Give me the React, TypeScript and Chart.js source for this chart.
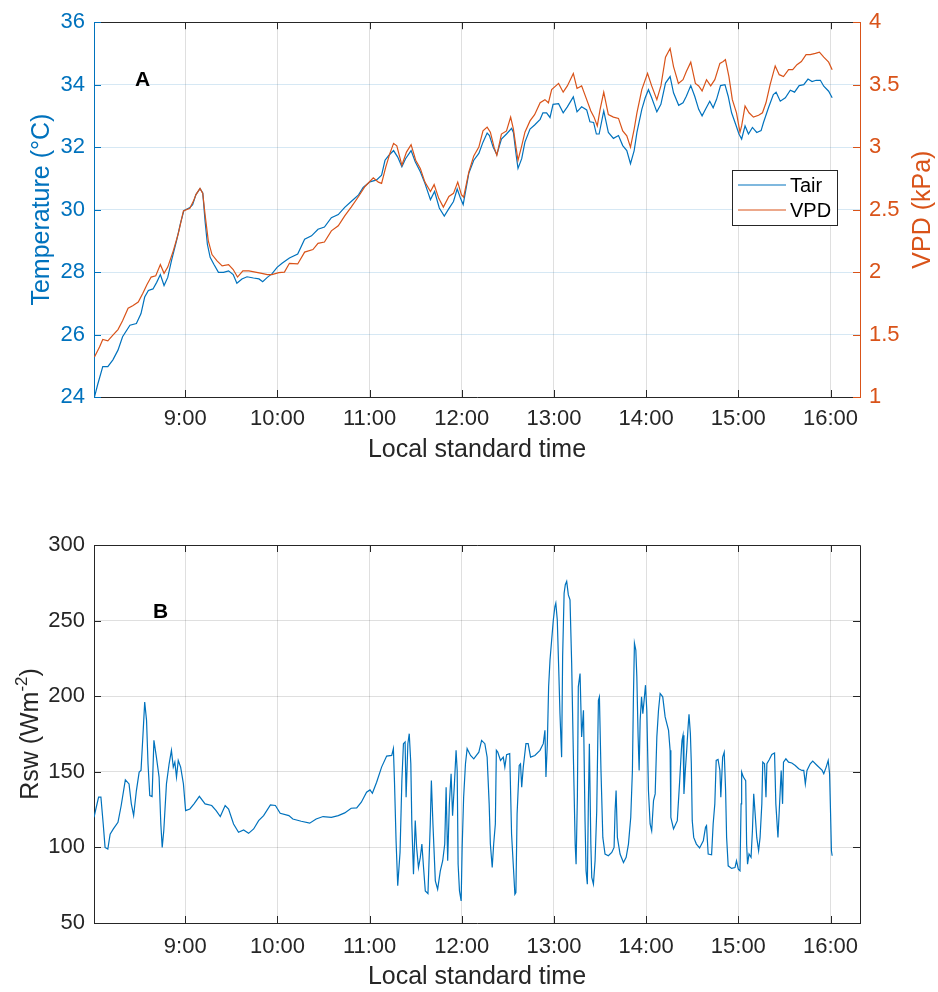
import React, { useEffect, useRef } from "react";
import { Chart, registerables } from "chart.js";

Chart.register(...registerables);

const FONT = "'Liberation Sans', Arial, Helvetica, sans-serif";
const BLUE = "#0072BD";
const ORANGE = "#D95319";
const AXIS = "#262626";
const GRID_GRAY = "rgba(38,38,38,0.15)";
const GRID_BLUE = "rgba(0,114,189,0.16)";

// x axis: local standard time in decimal hours
const hourTicks = [9, 10, 11, 12, 13, 14, 15, 16];
const hourLabels = ["9:00", "10:00", "11:00", "12:00", "13:00", "14:00", "15:00", "16:00"];

// Panel A: air temperature (°C)
const tairTime = [
  8.015, 8.05, 8.105, 8.16, 8.215, 8.27, 8.32, 8.4, 8.47, 8.52, 8.56, 8.6, 8.65, 8.69, 8.73, 8.77, 8.81, 8.85,
  8.905, 8.95, 8.985, 9.05, 9.08, 9.116, 9.16, 9.19, 9.215, 9.24, 9.27, 9.31, 9.36, 9.415, 9.47, 9.52, 9.56,
  9.615, 9.67, 9.74, 9.8, 9.84, 9.89, 9.94, 9.996, 10.05, 10.13, 10.22, 10.295, 10.37, 10.44, 10.51, 10.585,
  10.66, 10.73, 10.8, 10.88, 10.93, 11.004, 11.076, 11.13, 11.167, 11.21, 11.26, 11.305, 11.35, 11.39, 11.45,
  11.495, 11.55, 11.6, 11.66, 11.705, 11.756, 11.81, 11.86, 11.91, 11.95, 11.985, 12.015, 12.076, 12.13, 12.185,
  12.23, 12.275, 12.3, 12.34, 12.38, 12.43, 12.485, 12.54, 12.56, 12.59, 12.61, 12.65, 12.685, 12.74, 12.79,
  12.85, 12.88, 12.92, 12.957, 12.99, 13.05, 13.1, 13.145, 13.21, 13.25, 13.3, 13.355, 13.39, 13.43, 13.46,
  13.49, 13.54, 13.59, 13.645, 13.7, 13.746, 13.79, 13.83, 13.87, 13.9, 13.953, 13.99, 14.025, 14.06, 14.116,
  14.16, 14.21, 14.26, 14.297, 14.353, 14.4, 14.436, 14.484, 14.527, 14.57, 14.607, 14.644, 14.69, 14.727,
  14.764, 14.807, 14.855, 14.89, 14.927, 14.97, 15.007, 15.036, 15.073, 15.11, 15.153, 15.2, 15.247, 15.273,
  15.327, 15.38, 15.41, 15.455, 15.51, 15.564, 15.61, 15.66, 15.71, 15.756, 15.8, 15.844, 15.89, 15.927, 15.98,
  16.018,
];
const tairValues = [
  24.0, 24.4, 24.97, 24.97, 25.19, 25.5, 25.93, 26.3, 26.35, 26.67, 27.2, 27.41, 27.46, 27.67, 27.92, 27.57, 27.83,
  28.36, 29.0, 29.58, 29.97, 30.07, 30.16, 30.48, 30.67, 30.53, 29.63, 28.89, 28.47, 28.25, 27.99, 27.99, 28.04,
  27.92, 27.64, 27.78, 27.85, 27.81, 27.78, 27.69, 27.83, 27.94, 28.15, 28.28, 28.45, 28.58, 29.05, 29.16, 29.37,
  29.44, 29.74, 29.84, 30.07, 30.26, 30.47, 30.71, 30.89, 30.95, 31.1, 31.58, 31.74, 31.89, 31.68, 31.37, 31.63,
  31.89, 31.53, 31.21, 30.84, 30.32, 30.58, 30.05, 29.79, 30.03, 30.26, 30.66, 30.37, 30.16, 31.16, 31.58, 31.8,
  32.16, 32.45, 32.37, 32.0, 31.76, 32.26, 32.42, 32.6, 32.47, 31.74, 31.32, 31.63, 32.16, 32.58, 32.71, 32.89,
  33.1, 33.1, 32.95, 33.37, 33.39, 33.1, 33.29, 33.61, 33.13, 33.29, 33.19, 32.81, 32.79, 32.42, 32.42, 33.16,
  32.47, 32.28, 32.37, 32.05, 31.89, 31.47, 31.89, 32.47, 33.21, 33.58, 33.84, 33.58, 33.13, 33.37, 34.05, 34.26,
  33.74, 33.34, 33.42, 33.63, 33.97, 33.63, 33.21, 33.0, 33.21, 33.47, 33.26, 33.53, 33.97, 34.0, 33.63, 33.1,
  32.74, 32.42, 32.26, 32.68, 32.42, 32.63, 32.47, 32.53, 32.79, 33.26, 33.68, 33.76, 33.47, 33.58, 33.82, 33.76,
  33.97, 34.0, 34.18, 34.1, 34.14, 34.14, 33.95, 33.79, 33.58,
];

// Panel A: vapour pressure deficit (kPa)
const vpdTime = [
  8.015, 8.07, 8.105, 8.16, 8.215, 8.27, 8.32, 8.38, 8.43, 8.49, 8.54, 8.585, 8.63, 8.68, 8.73, 8.77, 8.81, 8.87,
  8.925, 8.98, 9.05, 9.09, 9.116, 9.16, 9.19, 9.215, 9.25, 9.29, 9.345, 9.4, 9.47, 9.52, 9.567, 9.625, 9.69, 9.76,
  9.83, 9.89, 9.94, 10.015, 10.076, 10.13, 10.22, 10.295, 10.385, 10.44, 10.51, 10.585, 10.66, 10.73, 10.8, 10.88,
  10.95, 11.04, 11.095, 11.13, 11.175, 11.22, 11.26, 11.295, 11.35, 11.4, 11.45, 11.5, 11.55, 11.6, 11.66, 11.7,
  11.75, 11.8, 11.86, 11.91, 11.956, 11.996, 12.02, 12.076, 12.13, 12.185, 12.23, 12.275, 12.31, 12.35, 12.38,
  12.43, 12.485, 12.53, 12.56, 12.59, 12.61, 12.65, 12.685, 12.74, 12.79, 12.85, 12.902, 12.94, 12.975, 13.05,
  13.1, 13.145, 13.21, 13.25, 13.3, 13.355, 13.4, 13.435, 13.47, 13.5, 13.54, 13.59, 13.645, 13.7, 13.746, 13.79,
  13.83, 13.87, 13.9, 13.953, 14.015, 14.06, 14.116, 14.16, 14.21, 14.26, 14.297, 14.35, 14.4, 14.436, 14.484,
  14.534, 14.57, 14.607, 14.655, 14.7, 14.745, 14.8, 14.836, 14.86, 14.898, 14.935, 14.98, 15.018, 15.036, 15.073,
  15.116, 15.164, 15.22, 15.262, 15.3, 15.345, 15.4, 15.444, 15.49, 15.545, 15.59, 15.636, 15.684, 15.735, 15.78,
  15.836, 15.88, 15.927, 15.98, 16.018,
];
const vpdValues = [
  1.32, 1.4, 1.46, 1.45, 1.495, 1.54, 1.61, 1.71, 1.73, 1.76, 1.83, 1.9, 1.96, 1.97, 2.06, 1.99, 2.04, 2.17, 2.31,
  2.49, 2.51, 2.57, 2.62, 2.67, 2.63, 2.46, 2.25, 2.14, 2.09, 2.05, 2.06, 2.02, 1.96, 2.01, 2.01, 2.0, 1.99, 1.98,
  1.98, 1.995, 2.0, 2.07, 2.065, 2.16, 2.18, 2.23, 2.24, 2.33, 2.37, 2.45, 2.52, 2.605, 2.685, 2.755, 2.72, 2.71,
  2.84, 2.95, 3.03, 3.01, 2.855, 2.96, 3.02, 2.895, 2.83, 2.72, 2.645, 2.7, 2.59, 2.52, 2.605, 2.63, 2.72, 2.62,
  2.6, 2.8, 2.93, 3.0, 3.13, 3.16, 3.12, 3.0, 2.935, 3.105, 3.13, 3.24, 3.145, 2.99, 2.895, 3.01, 3.12, 3.21, 3.26,
  3.355, 3.38, 3.355, 3.46, 3.51, 3.44, 3.49, 3.59, 3.47, 3.49, 3.38, 3.29, 3.24, 3.17, 3.3, 3.44, 3.26, 3.24,
  3.23, 3.13, 3.09, 3.0, 3.145, 3.275, 3.46, 3.59, 3.49, 3.38, 3.49, 3.72, 3.79, 3.645, 3.51, 3.54, 3.605, 3.68,
  3.51, 3.49, 3.45, 3.54, 3.49, 3.54, 3.67, 3.685, 3.7, 3.565, 3.38, 3.275, 3.12, 3.17, 3.33, 3.275, 3.24, 3.255,
  3.275, 3.355, 3.5, 3.65, 3.58, 3.565, 3.62, 3.62, 3.66, 3.685, 3.74, 3.74, 3.75, 3.76, 3.72, 3.68, 3.62,
];

// Panel B: shortwave radiation (W m-2)
const rswTime = [
  8.01, 8.03, 8.06, 8.085, 8.11, 8.13, 8.16, 8.185, 8.22, 8.27, 8.305, 8.35, 8.39, 8.415, 8.44, 8.47, 8.5, 8.52,
  8.54, 8.56, 8.58, 8.596, 8.615, 8.64, 8.66, 8.687, 8.716, 8.735, 8.75, 8.767, 8.796, 8.825, 8.85, 8.87, 8.887,
  8.905, 8.924, 8.95, 8.98, 9.004, 9.05, 9.095, 9.153, 9.215, 9.287, 9.335, 9.38, 9.433, 9.47, 9.524, 9.578,
  9.633, 9.687, 9.742, 9.796, 9.85, 9.924, 9.978, 10.03, 10.124, 10.167, 10.258, 10.35, 10.42, 10.495, 10.585,
  10.66, 10.73, 10.8, 10.86, 10.91, 10.967, 11.004, 11.03, 11.076, 11.13, 11.185, 11.24, 11.258, 11.27, 11.287,
  11.305, 11.33, 11.35, 11.367, 11.385, 11.396, 11.415, 11.43, 11.447, 11.458, 11.476, 11.495, 11.51, 11.53,
  11.55, 11.567, 11.585, 11.604, 11.633, 11.658, 11.67, 11.687, 11.713, 11.738, 11.767, 11.793, 11.815, 11.83,
  11.847, 11.865, 11.884, 11.9, 11.92, 11.938, 11.95, 11.96, 11.975, 11.993, 12.004, 12.02, 12.04, 12.058, 12.095,
  12.13, 12.185, 12.215, 12.25, 12.275, 12.297, 12.31, 12.33, 12.346, 12.364, 12.375, 12.39, 12.42, 12.45,
  12.467, 12.486, 12.52, 12.54, 12.558, 12.576, 12.587, 12.6, 12.623, 12.637, 12.65, 12.667, 12.696, 12.72,
  12.746, 12.793, 12.848, 12.884, 12.902, 12.913, 12.928, 12.942, 12.957, 12.975, 12.993, 13.01, 13.02, 13.036,
  13.054, 13.065, 13.083, 13.094, 13.11, 13.123, 13.138, 13.156, 13.174, 13.192, 13.21, 13.23, 13.24, 13.254,
  13.264, 13.283, 13.3, 13.32, 13.337, 13.348, 13.362, 13.373, 13.384, 13.4, 13.41, 13.428, 13.446, 13.464,
  13.482, 13.493, 13.51, 13.53, 13.554, 13.59, 13.627, 13.652, 13.663, 13.674, 13.688, 13.717, 13.754, 13.783,
  13.808, 13.833, 13.851, 13.862, 13.873, 13.888, 13.899, 13.913, 13.924, 13.935, 13.95, 13.964, 13.978, 13.993,
  14.007, 14.025, 14.043, 14.06, 14.08, 14.098, 14.116, 14.134, 14.152, 14.18, 14.206, 14.243, 14.26, 14.268,
  14.297, 14.338, 14.364, 14.382, 14.389, 14.4, 14.41, 14.425, 14.44, 14.455, 14.465, 14.48, 14.49, 14.5, 14.516,
  14.545, 14.58, 14.62, 14.644, 14.655, 14.673, 14.71, 14.727, 14.745, 14.76, 14.78, 14.8, 14.81, 14.83, 14.847,
  14.862, 14.873, 14.89, 14.927, 14.964, 14.98, 15.0, 15.018, 15.03, 15.036, 15.055, 15.08, 15.09, 15.1, 15.116,
  15.138, 15.153, 15.167, 15.18, 15.2, 15.22, 15.236, 15.255, 15.265, 15.284, 15.3, 15.31, 15.335, 15.364,
  15.393, 15.407, 15.43, 15.444, 15.465, 15.48, 15.49, 15.516, 15.545, 15.58, 15.618, 15.655, 15.69, 15.71,
  15.727, 15.745, 15.78, 15.807, 15.855, 15.91, 15.927, 15.953, 15.975, 15.99, 16.0, 16.01, 16.018,
];
const rswValues = [
  119.9, 125.4, 133.2, 133.2, 115.5, 100, 98.9, 108.8, 112.2, 116.6, 127.7, 144.7, 142, 128.8, 121, 137.6, 149.8,
  150.9, 173, 196.2, 184, 155.3, 134.3, 133.6, 170.8, 159.7, 146.5, 115.5, 100, 111, 142, 155.3, 164.2, 153.1,
  156.4, 146.5, 157.5, 153.1, 142, 124.3, 125.4, 128.8, 133.8, 128.8, 127.7, 124.3, 120.4, 127.7, 125.4, 115.5,
  110, 111.5, 109.3, 112.2, 117.7, 121, 128.1, 127.7, 122.6, 121, 118.8, 117.3, 116, 118.8, 120.4, 119.9, 121,
  122.8, 125.9, 126.1, 129.9, 136.5, 138, 135.8, 143.1, 153.1, 160.4, 160.8, 165.3, 143.1, 104.4, 74.6, 96.7,
  144.2, 168.6, 169.7, 133.2, 168.6, 175.2, 155.3, 115.5, 82.3, 117.7, 100, 86.7, 93.4, 102.2, 86.7, 71.2, 69.5,
  115.5, 144.2, 115.5, 77.9, 72.3, 84.5, 91.2, 102.2, 139.8, 91.2, 128.8, 148.7, 121, 142, 164.2, 150.9, 89, 71.2,
  64.6, 100, 133.2, 155.3, 165.3, 160.8, 158.6, 163, 170.8, 168.6, 159.7, 128.8, 102.2, 86.7, 102.2, 115.5, 164.2,
  163, 157.5, 159.7, 153.1, 161.3, 162, 108.8, 89, 69, 70.1, 122.1, 154.2, 155.3, 139.8, 153.1, 168.6, 168.6,
  159.7, 160.8, 164.2, 168.6, 177.4, 146.5, 168.6, 206.2, 223.9, 237.2, 250.4, 259.3, 261.5, 250.4, 212.8, 188.5,
  159.7, 226.1, 268.1, 273.7, 275.9, 267, 263.7, 221.7, 162, 102.2, 88.9, 133.2, 206.2, 215, 173, 190.7, 117.7,
  84.5, 75.7, 128.8, 168.6, 102.2, 80.1, 75.7, 91.2, 124.3, 197.3, 199.6, 150.9, 106.6, 95.6, 94.5, 96.7, 100,
  124.3, 137.6, 106.6, 95.6, 90, 93.4, 102.2, 119.9, 150.9, 199.6, 235, 230.5, 212.8, 173, 150.9, 184.1, 199.6,
  188.5, 197.3, 207.3, 190.7, 137.6, 115.5, 111, 131, 135.4, 173, 190.7, 201.8, 199.6, 186.3, 177.4, 164.2, 119.9,
  112.2, 117.7, 144.2, 164.2, 170.8, 174.1, 135.4, 150.9, 164.2, 179.6, 188.1, 175.2, 155.3, 117.7, 106.6, 102.2,
  99.6, 104.4, 113.3, 114.4, 95.6, 95.1, 115.5, 128.8, 157.5, 158.2, 150.9, 133.2, 159.7, 163, 137.6, 106.6, 87.8,
  86.1, 86.7, 91.2, 85.6, 84.5, 128.8, 149.8, 146.5, 144.2, 102.2, 88.9, 95.6, 93.4, 111, 135.4, 124.3, 106.6,
  97.8, 106.6, 128.8, 156.4, 155.3, 133.2, 155.3, 158, 161.5, 162.4, 128.8, 106.6, 124.3, 150.9, 128.8, 156.4,
  158.6, 156.4, 155.8, 154.2, 152, 150.9, 150.9, 142, 150.9, 155.3, 157.1, 154.2, 150.9, 148.7, 153.1, 157.5,
  148.7, 124.3, 97.8, 94.5,
];

const W = 938;
const TOP_H = 475;
const BOT_TOP = 475;
const BOT_H = 517;
const TICK_LEN = 7;

const pts = (xs: number[], ys: number[]) => xs.map((x, i) => ({ x, y: ys[i] }));
const px = (v: number) => Math.round(v) + 0.5;

function xScale(height: number, pad: number) {
  return {
    type: "linear",
    position: "bottom",
    min: 8.01,
    max: 16.32,
    afterBuildTicks: (s: any) => {
      s.ticks = hourTicks.map((v) => ({ value: v }));
    },
    afterFit: (s: any) => {
      s.height = height;
    },
    ticks: {
      callback: (_v: any, i: number) => hourLabels[i],
      color: AXIS,
      font: { family: FONT, size: 22 },
      padding: pad,
      maxRotation: 0,
      autoSkip: false,
    },
    grid: { color: GRID_GRAY, drawTicks: false, tickLength: 0, lineWidth: 1 },
    border: { color: AXIS, width: 1 },
  };
}

function tickMarks(ctx: any, chart: any, id: string, side: string, color: string) {
  const s = chart.scales[id];
  const a = chart.chartArea;
  ctx.strokeStyle = color;
  ctx.lineWidth = 1;
  ctx.beginPath();
  for (const t of s.ticks) {
    const p = px(s.getPixelForValue(t.value));
    if (side === "bottom") { ctx.moveTo(p, a.bottom); ctx.lineTo(p, a.bottom - TICK_LEN); }
    if (side === "top") { ctx.moveTo(p, a.top); ctx.lineTo(p, a.top + TICK_LEN); }
    if (side === "left") { ctx.moveTo(a.left, p); ctx.lineTo(a.left + TICK_LEN, p); }
    if (side === "right") { ctx.moveTo(a.right, p); ctx.lineTo(a.right - TICK_LEN, p); }
  }
  ctx.stroke();
}

function rotatedText(ctx: any, text: string, x: number, y: number, color: string, size: number) {
  ctx.save();
  ctx.translate(x, y);
  ctx.rotate(-Math.PI / 2);
  ctx.font = `${size}px ${FONT}`;
  ctx.fillStyle = color;
  ctx.textAlign = "center";
  ctx.textBaseline = "alphabetic";
  ctx.fillText(text, 0, 0);
  ctx.restore();
}

const topDecor = {
  id: "topDecor",
  afterDraw(chart: any) {
    const { ctx, chartArea: a } = chart;
    ctx.save();
    ctx.strokeStyle = AXIS;
    ctx.lineWidth = 1;
    ctx.beginPath();
    ctx.moveTo(a.left, px(a.top - 0.5));
    ctx.lineTo(a.right, px(a.top - 0.5));
    ctx.stroke();
    tickMarks(ctx, chart, "x", "bottom", AXIS);
    tickMarks(ctx, chart, "x", "top", AXIS);
    tickMarks(ctx, chart, "y", "left", BLUE);
    tickMarks(ctx, chart, "y2", "right", ORANGE);

    ctx.font = `25px ${FONT}`;
    ctx.fillStyle = AXIS;
    ctx.textAlign = "center";
    ctx.textBaseline = "alphabetic";
    ctx.fillText("Local standard time", (a.left + a.right) / 2, 457);
    const cy = (a.top + a.bottom) / 2;
    rotatedText(ctx, "Temperature (°C)", 49, cy, BLUE, 25);
    rotatedText(ctx, "VPD (kPa)", 930, cy, ORANGE, 25);

    ctx.font = `bold 21px ${FONT}`;
    ctx.fillStyle = "#000";
    ctx.textAlign = "left";
    ctx.fillText("A", a.left + 41, a.top + 63.5);

    const bw = 105, bh = 55;
    const bx = Math.round(a.right - 128), by = Math.round(a.top + 148);
    ctx.fillStyle = "#fff";
    ctx.fillRect(bx, by, bw, bh);
    ctx.strokeStyle = AXIS;
    ctx.lineWidth = 1;
    ctx.strokeRect(bx + 0.5, by + 0.5, bw, bh);
    ctx.font = `20px ${FONT}`;
    chart.data.datasets.forEach((ds: any, i: number) => {
      const ly = by + 15 + i * 25;
      ctx.strokeStyle = ds.borderColor;
      ctx.lineWidth = 1.2;
      ctx.beginPath();
      ctx.moveTo(bx + 6, ly);
      ctx.lineTo(bx + 54, ly);
      ctx.stroke();
      ctx.fillStyle = "#000";
      ctx.textAlign = "left";
      ctx.fillText(ds.label, bx + 58, by + 22 + i * 25);
    });
    ctx.restore();
  },
};

const bottomDecor = {
  id: "bottomDecor",
  afterDraw(chart: any) {
    const { ctx, chartArea: a } = chart;
    ctx.save();
    ctx.strokeStyle = AXIS;
    ctx.lineWidth = 1;
    ctx.beginPath();
    ctx.moveTo(a.left, px(a.top - 0.5));
    ctx.lineTo(px(a.right - 0.5), px(a.top - 0.5));
    ctx.lineTo(px(a.right - 0.5), a.bottom);
    ctx.stroke();
    tickMarks(ctx, chart, "x", "bottom", AXIS);
    tickMarks(ctx, chart, "x", "top", AXIS);
    tickMarks(ctx, chart, "y", "left", AXIS);
    tickMarks(ctx, chart, "y", "right", AXIS);

    ctx.font = `25px ${FONT}`;
    ctx.fillStyle = AXIS;
    ctx.textAlign = "center";
    ctx.textBaseline = "alphabetic";
    ctx.fillText("Local standard time", (a.left + a.right) / 2, 509);

    const cy = (a.top + a.bottom) / 2;
    ctx.translate(38, cy);
    ctx.rotate(-Math.PI / 2);
    const main = `25px ${FONT}`;
    const sup = `17px ${FONT}`;
    ctx.font = main;
    const w1 = ctx.measureText("Rsw (Wm").width;
    const w3 = ctx.measureText(")").width;
    ctx.font = sup;
    const w2 = ctx.measureText("-2").width;
    let x0 = -(w1 + w2 + w3) / 2;
    ctx.textAlign = "left";
    ctx.fillStyle = AXIS;
    ctx.font = main;
    ctx.fillText("Rsw (Wm", x0, 0);
    x0 += w1;
    ctx.font = sup;
    ctx.fillText("-2", x0, -11);
    x0 += w2;
    ctx.font = main;
    ctx.fillText(")", x0, 0);
    ctx.setTransform(1, 0, 0, 1, 0, 0);

    ctx.font = `bold 21px ${FONT}`;
    ctx.fillStyle = "#000";
    ctx.textAlign = "left";
    ctx.fillText("B", a.left + 59, a.top + 73);
    ctx.restore();
  },
};

function topConfig(): any {
  return {
    type: "line",
    data: {
      datasets: [
        { label: "Tair", data: pts(tairTime, tairValues), yAxisID: "y", borderColor: BLUE, borderWidth: 1.2, pointRadius: 0, order: 1 },
        { label: "VPD", data: pts(vpdTime, vpdValues), yAxisID: "y2", borderColor: ORANGE, borderWidth: 1.2, pointRadius: 0, order: 0 },
      ],
    },
    options: {
      animation: false,
      responsive: false,
      devicePixelRatio: 1,
      layout: { padding: { top: 19, left: 0, right: 0, bottom: 0 } },
      plugins: { legend: { display: false }, tooltip: { enabled: false } },
      elements: { line: { tension: 0 } },
      scales: {
        x: xScale(78, 9),
        y: {
          type: "linear",
          position: "left",
          min: 24,
          max: 36,
          afterFit: (s: any) => { s.width = 94; },
          ticks: { stepSize: 2, color: BLUE, font: { family: FONT, size: 22 }, padding: 9 },
          grid: { color: GRID_BLUE, drawTicks: false, tickLength: 0 },
          border: { color: BLUE, width: 1 },
        },
        y2: {
          type: "linear",
          position: "right",
          min: 1,
          max: 4,
          afterFit: (s: any) => { s.width = 78; },
          ticks: { stepSize: 0.5, color: ORANGE, font: { family: FONT, size: 22 }, padding: 9, callback: (v: any) => String(v) },
          grid: { drawOnChartArea: false, drawTicks: false, tickLength: 0 },
          border: { color: ORANGE, width: 1 },
        },
      },
    },
    plugins: [topDecor],
  };
}

function bottomConfig(): any {
  return {
    type: "line",
    data: {
      datasets: [
        { label: "Rsw", data: pts(rswTime, rswValues), borderColor: BLUE, borderWidth: 1.2, pointRadius: 0 },
      ],
    },
    options: {
      animation: false,
      responsive: false,
      devicePixelRatio: 1,
      layout: { padding: { top: 70, left: 0, right: 78, bottom: 0 } },
      plugins: { legend: { display: false }, tooltip: { enabled: false } },
      elements: { line: { tension: 0 } },
      scales: {
        x: xScale(69, 11),
        y: {
          type: "linear",
          position: "left",
          min: 50,
          max: 300,
          afterFit: (s: any) => { s.width = 94; },
          ticks: { stepSize: 50, color: AXIS, font: { family: FONT, size: 22 }, padding: 9 },
          grid: { color: GRID_GRAY, drawTicks: false, tickLength: 0 },
          border: { color: AXIS, width: 1 },
        },
      },
    },
    plugins: [bottomDecor],
  };
}

function ChartCanvas({ make, top, height }: { make: () => any; top: number; height: number }) {
  const ref = useRef<HTMLCanvasElement | null>(null);
  useEffect(() => {
    if (!ref.current) return;
    const chart = new Chart(ref.current, make());
    return () => chart.destroy();
  }, []);
  return (
    <canvas
      ref={ref}
      width={W}
      height={height}
      style={{ position: "absolute", left: 0, top, width: W, height, display: "block" }}
    />
  );
}

export default function App() {
  return (
    <div style={{ position: "absolute", left: 0, top: 0, width: W, height: 992, background: "#fff" }}>
      <ChartCanvas make={topConfig} top={0} height={TOP_H} />
      <ChartCanvas make={bottomConfig} top={BOT_TOP} height={BOT_H} />
    </div>
  );
}
